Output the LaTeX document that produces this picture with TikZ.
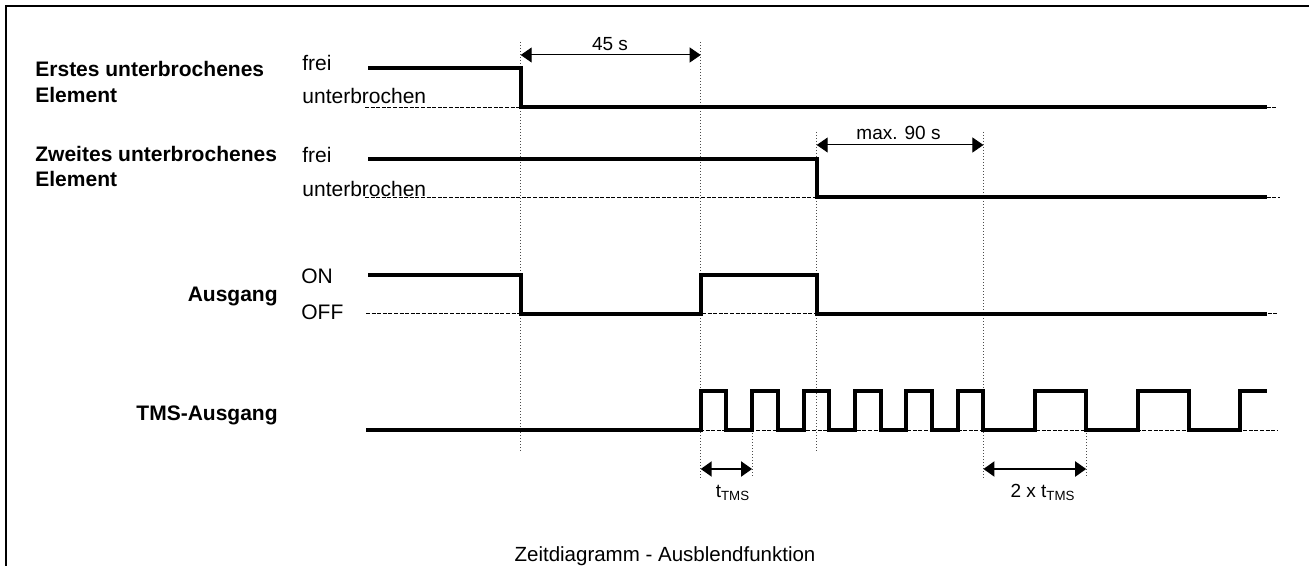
\documentclass[tikz,border=0pt]{standalone}
\usepackage{fontspec}
\setmainfont{Liberation Sans}
\usetikzlibrary{arrows.meta}

\begin{document}
\begin{tikzpicture}[x=0.5pt, y=-0.5pt,
    sig/.style={line width=2pt, line join=miter},
    base/.style={dash pattern=on 2pt off 0.8pt, line width=0.4pt},
    guide/.style={densely dotted, line width=0.5pt, black!70},
    dim/.style={{Triangle[length=5.5pt, width=7.5pt]}-{Triangle[length=5.5pt, width=7.5pt]}, line width=0.5pt},
    lbl/.style={font=\bfseries\fontsize{10.5}{12}\selectfont, inner sep=0pt},
    lvl/.style={font=\fontsize{10.5}{12}\selectfont, inner sep=0pt, anchor=base west},
    note/.style={font=\fontsize{9.5}{11}\selectfont, inner sep=0pt, anchor=base}
]
\useasboundingbox (0,0) rectangle (1309,566);
\draw[line width=1.1pt] (6,566) -- (6,6) -- (1309,6);

% signal names and levels
\node[lbl, anchor=base west] (e1a) at (35,77) {Erstes unterbrochenes};
\node[lbl, anchor=base west] (e1b) at (35,102.7) {Element};
\node[lvl] (e1hi) at (302,70.7) {frei};
\node[lvl] (e1lo) at (302,104) {unterbrochen};

\node[lbl, anchor=base west] (e2a) at (35,162) {Zweites unterbrochenes};
\node[lbl, anchor=base west] (e2b) at (35,187) {Element};
\node[lvl] (e2hi) at (302,162.3) {frei};
\node[lvl] (e2lo) at (302,197) {unterbrochen};

\node[lbl, anchor=base east] (out) at (278,301) {Ausgang};
\node[lvl] (outhi) at (301,283.3) {ON};
\node[lvl] (outlo) at (301,319.3) {OFF};

\node[lbl, anchor=base east] (tms) at (278,420) {TMS-Ausgang};

% time marks
\draw[guide] (520.7,42) -- (520.7,453);
\draw[guide] (700.7,42) -- (700.7,478);
\draw[guide] (816.7,132) -- (816.7,453);
\draw[guide] (983.4,132) -- (983.4,478);
\draw[guide] (752.1,430) -- (752.1,478);
\draw[guide] (1086.2,430) -- (1086.2,478);

% zero levels
\draw[base] (365,107) -- (1277,107);
\draw[base] (365,197) -- (1280,197);
\draw[base] (366,313.7) -- (1277,313.7);
\draw[base] (700,430) -- (1277,430);

% signals
\draw[sig] (368,68) -- (520.7,68) -- (520.7,107) -- (1266.7,107);
\draw[sig] (368,159) -- (816.7,159) -- (816.7,197) -- (1266.7,197);
\draw[sig] (368,275) -- (520.7,275) -- (520.7,313.7) -- (700.7,313.7)
    -- (700.7,275) -- (816.7,275) -- (816.7,313.7) -- (1266.7,313.7);
\draw[sig] (366,430) -- (700.7,430)
    \foreach \i in {1,...,6} { -- ++(0,-39) -- ++(25.7,0) -- ++(0,39) -- ++(25.7,0) }
    -- ++(25.7,0)
    \foreach \i in {1,2} { -- ++(0,-39) -- ++(51.4,0) -- ++(0,39) -- ++(51.4,0) }
    -- ++(0,-39) -- (1266.7,391);

% durations
\coordinate (a45) at (520.7,55);
\coordinate (b45) at (700.7,55);
\draw[dim] (a45) -- (b45);
\node[note] (l45) at (610,51) {45 s};

\coordinate (a90) at (816.7,145);
\coordinate (b90) at (983.4,145);
\draw[dim] (a90) -- (b90);
\node[note] (l90) at (898.5,140) {max. 90 s};

\coordinate (at1) at (700.7,469);
\coordinate (bt1) at (752.1,469);
\draw[dim, line width=1pt] (at1) -- (bt1);
\node[note] (lt1) at (733,497) {t\textsubscript{TMS}};

\coordinate (at2) at (983.4,469);
\coordinate (bt2) at (1086.2,469);
\draw[dim, line width=1pt] (at2) -- (bt2);
\node[note] (lt2) at (1043,497) {2 x t\textsubscript{TMS}};

\node[note, font=\fontsize{10.25}{12}\selectfont] (title) at (665,561) {Zeitdiagramm - Ausblendfunktion};

\end{tikzpicture}
\end{document}
